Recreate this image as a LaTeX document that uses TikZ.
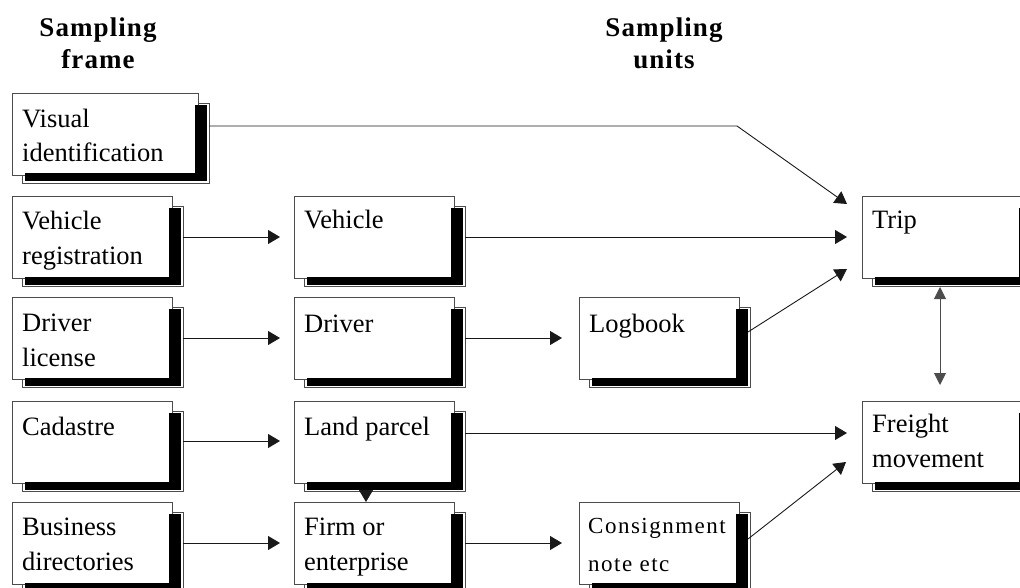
\documentclass[tikz,border=0pt]{standalone}
\usepackage{fontspec}
\setmainfont{Liberation Serif}
\newfontfamily\consfont[LetterSpace=6.5]{Liberation Serif}
\newfontfamily\hdrfont[LetterSpace=4]{Liberation Serif}
\usetikzlibrary{arrows.meta,calc}
% #1 name, #2 x0, #3 y0, #4 width
\newcommand{\mybox}[4]{%
  \draw[shout] (#2+10.5,#3+10) rectangle (#2+#4+11,#3+82+8.5);
  \node[boxst, minimum width=#4] (#1) at (#2,#3) {};
  \fill[black] (#2+#4-3,#3+12) rectangle (#2+#4+8.5,#3+82+6.5);
  \fill[black] (#2+13,#3+82-1.5) rectangle (#2+#4+8.5,#3+82+6.5);
}
\begin{document}
\begin{tikzpicture}[x=1pt,y=-1pt,
  boxst/.style={draw=black!70, line width=0.8pt, fill=white, inner sep=0pt,
    outer sep=0pt, minimum height=82, anchor=north west},
  shout/.style={draw=black!70, line width=0.8pt, fill=white},
  txt/.style={font=\fontsize{26.5}{34.5}\selectfont, align=left, anchor=base west, inner sep=0pt},
  hdr/.style={font=\hdrfont\bfseries\fontsize{27}{32}\selectfont, align=center, anchor=base, inner sep=0pt},
  arr/.style={draw=black!90, line width=0.9pt, -{Triangle[length=12pt,width=14pt]}},
  darr/.style={draw=black!70, line width=0.9pt, {Triangle[length=12pt,width=12pt]}-{Triangle[length=12pt,width=12pt]}},
]
\useasboundingbox (0,0) rectangle (1020,588);
\clip (0,0) rectangle (1020,588);

% headers (anchor base = last line)
\node[hdr] (hframe) at (98,69) {Sampling\\frame};
\node[hdr] (hunits) at (664,69) {Sampling\\units};

% left column
\mybox{vis}{12}{93}{186}
\mybox{vreg}{12}{196}{160}
\mybox{dlic}{12}{297}{160}
\mybox{cad}{12}{401}{160}
\mybox{bus}{12}{502}{160}
% middle column
\mybox{veh}{294}{196}{160}
\mybox{drv}{294}{297}{160}
\mybox{land}{294}{401}{160}
\mybox{firm}{294}{502}{160}
% third column
\mybox{log}{579}{297}{160}
\mybox{cons}{579}{502}{160}
% right column
\mybox{trip}{862}{196}{160}
\mybox{frt}{862}{401}{160}

% texts (anchor base = baseline of last line)
\node[txt] (tvis) at (22,162) {Visual\\identification};
\node[txt] (tvreg) at (22,264) {Vehicle\\registration};
\node[txt] (tdlic) at (22,366) {Driver\\license};
\node[txt] (tcad) at (22,435) {Cadastre};
\node[txt] (tbus) at (22,570) {Business\\directories};
\node[txt] (tveh) at (304,229) {Vehicle};
\node[txt] (tdrv) at (304,332) {Driver};
\node[txt] (tland) at (304,435) {Land parcel};
\node[txt] (tfirm) at (304,570) {Firm or\\enterprise};
\node[txt] (tlog) at (589,332) {Logbook};
\node[txt, font=\consfont\fontsize{23}{38}\selectfont] (tcons) at (588,571) {Consignment\\note etc};
\node[txt] (ttrip) at (872,229) {Trip};
\node[txt] (tfrt) at (872,467) {Freight\\movement};

% connectors
\coordinate (bend) at (737,126);
\draw[arr] ([shift={(11,-8)}]vis.east) -- (bend) -- ([shift={(-15,-33)}]trip.west);
\draw[arr] ([xshift=11pt]vreg.east) -- ([xshift=-14pt]veh.west);
\draw[arr] ([xshift=11pt]dlic.east) -- ([xshift=-14pt]drv.west);
\draw[arr] ([shift={(11,-1)}]cad.east) -- ([shift={(-14,-1)}]land.west);
\draw[arr] ([xshift=11pt]bus.east) -- ([xshift=-14pt]firm.west);
\draw[arr] ([xshift=11pt]veh.east) -- ([xshift=-15pt]trip.west);
\draw[arr] ([xshift=11pt]drv.east) -- ([xshift=-17pt]log.west);
\draw[arr] ([xshift=11pt]firm.east) -- ([xshift=-17pt]cons.west);
\draw[arr] ([shift={(11,-9)}]land.east) -- ([shift={(-15,-9)}]frt.west);
\draw[arr] ([shift={(-8,8.5)}]land.south) -- ([xshift=-8pt]firm.north);
\draw[arr] ([shift={(9,-6)}]log.east) -- ([shift={(-15,32)}]trip.west);
\draw[arr] ([shift={(9,-4)}]cons.east) -- ([shift={(-16,20)}]frt.west);
\draw[darr] ([shift={(78,9)}]trip.south west) -- ([shift={(78,-16)}]frt.north west);
\end{tikzpicture}
\end{document}
